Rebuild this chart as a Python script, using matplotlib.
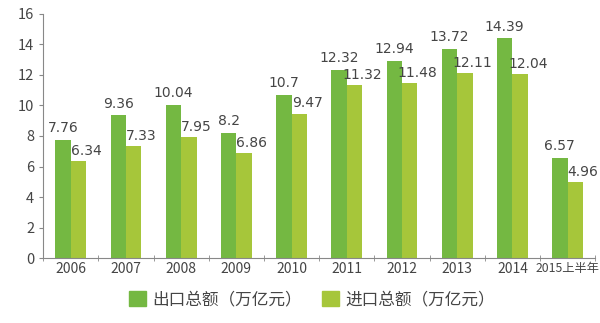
import numpy as np
import matplotlib
matplotlib.use("Agg")
import matplotlib.pyplot as plt
from matplotlib.patches import Patch

plt.rcParams['font.family'] = ['Noto Sans CJK SC', 'DejaVu Sans']

years = ['2006', '2007', '2008', '2009', '2010', '2011', '2012', '2013', '2014', '2015上半年']
exports = [7.76, 9.36, 10.04, 8.2, 10.7, 12.32, 12.94, 13.72, 14.39, 6.57]
imports = [6.34, 7.33, 7.95, 6.86, 9.47, 11.32, 11.48, 12.11, 12.04, 4.96]
export_labels = ['7.76', '9.36', '10.04', '8.2', '10.7', '12.32', '12.94', '13.72', '14.39', '6.57']
import_labels = ['6.34', '7.33', '7.95', '6.86', '9.47', '11.32', '11.48', '12.11', '12.04', '4.96']

c_exp = '#74b842'
c_imp = '#a6c63a'
txt = '#454545'

fig = plt.figure(figsize=(6, 3.23), dpi=100)
ax = fig.add_axes([0.072, 0.201, 0.92, 0.756])

x = np.arange(len(years))
w = 0.28
ax.bar(x - w / 2, exports, w, color=c_exp)
ax.bar(x + w / 2, imports, w, color=c_imp)

for i in range(len(years)):
    ax.text(x[i] - w / 2, exports[i] + 0.3, export_labels[i], ha='center', va='bottom',
            fontsize=10, color=txt, family='DejaVu Sans')
    ax.text(x[i] + w / 2 + 0.14, imports[i] + 0.2, import_labels[i], ha='center', va='bottom',
            fontsize=10, color=txt, family='DejaVu Sans')

ax.set_xlim(-0.5, len(years) - 0.5)
ax.set_ylim(0, 16)
ax.set_yticks(range(0, 17, 2))
ax.set_xticks(x)
ax.set_xticklabels(years)
ax.set_xticks(np.arange(-0.5, len(years), 1), minor=True)
ax.tick_params(axis='x', which='major', length=0, pad=3, labelsize=10, colors=txt)
ax.tick_params(axis='x', which='minor', length=4, direction='inout', color='#888888')
ax.tick_params(axis='y', length=3, color='#888888', labelsize=10.5, colors=txt)
ax.get_xticklabels()[-1].set_fontsize(8.8)
for lab in ax.get_yticklabels():
    lab.set_color(txt)
for s in ['top', 'right']:
    ax.spines[s].set_visible(False)
ax.spines['left'].set_color('#888888')
ax.spines['bottom'].set_color('#888888')

handles = [Patch(color=c_exp, label='出口总额（万亿元）'),
           Patch(color=c_imp, label='进口总额（万亿元）')]
leg = fig.legend(handles=handles, loc='lower center', bbox_to_anchor=(0.52, 0.0), ncol=2,
                 frameon=False, fontsize=12, handlelength=1.0, handleheight=1.0,
                 columnspacing=1.2, handletextpad=0.4)
for t in leg.get_texts():
    t.set_color(txt)

fig.savefig('out.png', dpi=100)
